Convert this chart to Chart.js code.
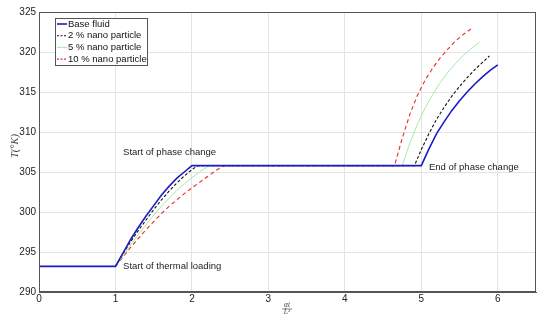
<!DOCTYPE html>
<html>
<head>
<meta charset="utf-8">
<script src="https://cdn.jsdelivr.net/npm/chart.js@4/dist/chart.umd.min.js"></script>
<style>
  body { margin: 0; background: #fff; }
</style>
</head>
<body>
<canvas id="grafico" width="550" height="321"></canvas>
<script>
// series names
var nomiSerie = ['Base fluid', '2 % nano particle', '5 % nano particle', '10 % nano particle'];

// x = alpha t / L^2, T in K
var baseX = [0, 1.0, 1.1, 1.2, 1.3, 1.4, 1.5, 1.6, 1.7, 1.8, 1.9, 2.0, 5.0, 5.1, 5.2, 5.3, 5.4, 5.5, 5.6, 5.7, 5.8, 5.9, 6.0];
var baseT = [293.2, 293.2, 294.9, 296.6, 298.1, 299.5, 300.8, 302.1, 303.2, 304.2, 305.0, 305.8, 305.8, 307.9, 309.8, 311.3, 312.7, 313.9, 315.0, 316.0, 316.9, 317.7, 318.4];

var dueX = [1.0, 1.1, 1.2, 1.3, 1.4, 1.5, 1.6, 1.7, 1.8, 1.9, 2.0, 2.08, 4.91, 5.0, 5.1, 5.2, 5.3, 5.4, 5.5, 5.6, 5.7, 5.8, 5.89];
var dueT = [293.2, 294.8, 296.3, 297.7, 299.0, 300.3, 301.5, 302.6, 303.6, 304.5, 305.3, 305.8, 305.8, 307.8, 309.8, 311.6, 313.1, 314.5, 315.7, 316.8, 317.8, 318.7, 319.5];

var cinqueX = [1.0, 1.1, 1.2, 1.3, 1.4, 1.5, 1.6, 1.7, 1.8, 1.9, 2.0, 2.1, 2.22, 4.75, 4.85, 4.95, 5.05, 5.15, 5.25, 5.35, 5.45, 5.55, 5.65, 5.76];
var cinqueT = [293.2, 294.5, 295.9, 297.2, 298.4, 299.6, 300.7, 301.7, 302.7, 303.5, 304.3, 305.0, 305.8, 305.8, 308.6, 311.0, 313.0, 314.7, 316.2, 317.5, 318.6, 319.6, 320.4, 321.2];

var dieciX = [1.0, 1.1, 1.2, 1.3, 1.4, 1.5, 1.6, 1.7, 1.8, 1.9, 2.0, 2.1, 2.2, 2.3, 2.42, 4.65, 4.75, 4.85, 4.95, 5.05, 5.15, 5.25, 5.35, 5.45, 5.55, 5.65];
var dieciT = [293.2, 294.4, 295.6, 296.7, 297.8, 298.8, 299.8, 300.7, 301.5, 302.3, 303.0, 303.7, 304.4, 305.1, 305.8, 305.8, 309.2, 312.2, 314.6, 316.5, 318.0, 319.3, 320.4, 321.4, 322.2, 322.9];

var tickX = [0, 1, 2, 3, 4, 5, 6];
var tickY = [290, 295, 300, 305, 310, 315, 320, 325];

// text notes: [text, x, T]
var note = [
    ['Start of phase change', 1.1, 307.4],
    ['Start of thermal loading', 1.1, 293.2],
    ['End of phase change', 5.1, 305.6]
];

function punti(xs, ys)
{
    var out = [];
    for (var i = 0; i < xs.length; i++) {
        out.push({ x: xs[i], y: ys[i] });
    }
    return out;
}

var stili = [
    { color: '#1c1cc0', width: 1.6, dash: [] },
    { color: '#111111', width: 1.1, dash: [3, 2] },
    { color: '#a6eaa6', width: 1.0, dash: [] },
    { color: '#e82a2a', width: 1.1, dash: [4, 3] }
];

var serie = [punti(baseX, baseT), punti(dueX, dueT), punti(cinqueX, cinqueT), punti(dieciX, dieciT)];

var datasets = [];
for (var i = 0; i < serie.length; i++) {
    datasets.push({
        label: nomiSerie[i],
        data: serie[i],
        showLine: true,
        borderColor: stili[i].color,
        borderWidth: stili[i].width,
        borderDash: stili[i].dash,
        pointRadius: 0,
        fill: false,
        tension: 0
    });
}

var extra = {
    id: 'extra',
    afterDraw: function(chart) {
        var c = chart.ctx;
        var sx = chart.scales.x;
        var sy = chart.scales.y;
        var a = chart.chartArea;
        c.save();

        // box round the plot
        c.strokeStyle = '#555';
        c.lineWidth = 1;
        c.strokeRect(Math.round(a.left) + 0.5, Math.round(a.top) + 0.5, Math.round(a.right - a.left) - 1, Math.round(a.bottom - a.top) - 1);

        // notes
        c.font = '9.5px "Liberation Sans", Arial, sans-serif';
        c.fillStyle = '#222';
        c.textBaseline = 'middle';
        c.textAlign = 'left';
        for (var i = 0; i < note.length; i++) {
            c.fillText(note[i][0], sx.getPixelForValue(note[i][1]), sy.getPixelForValue(note[i][2]));
        }

        // legend box
        var lx = 55, ly = 18, lw = 92, lh = 47;
        c.fillStyle = '#fff';
        c.fillRect(lx, ly, lw, lh);
        c.strokeStyle = '#555';
        c.lineWidth = 1;
        c.setLineDash([]);
        c.strokeRect(lx + 0.5, ly + 0.5, lw, lh);
        c.font = '9.5px "Liberation Sans", Arial, sans-serif';
        for (var k = 0; k < nomiSerie.length; k++) {
            var yy = ly + 6 + k * 11.7;
            c.strokeStyle = stili[k].color;
            c.lineWidth = stili[k].width;
            c.setLineDash(stili[k].dash.length ? [2, 1.5] : []);
            c.beginPath();
            c.moveTo(lx + 2, yy);
            c.lineTo(lx + 12, yy);
            c.stroke();
            c.fillStyle = '#111';
            c.fillText(nomiSerie[k], lx + 13, yy);
        }
        c.setLineDash([]);

        // y title
        c.fillStyle = '#444';
        c.font = 'italic 10.5px "Liberation Serif", "DejaVu Serif", serif';
        c.translate(15, 146);
        c.rotate(-Math.PI / 2);
        c.textAlign = 'center';
        c.fillText('T(°K)', 0, 0);
        c.setTransform(1, 0, 0, 1, 0, 0);

        // x title as fraction
        var fx = 287;
        c.font = 'italic 7.5px "Liberation Serif", "DejaVu Serif", serif';
        c.textAlign = 'center';
        c.fillText('αt', fx, 305.5);
        c.fillText('L²', fx, 312.5);
        c.strokeStyle = '#444';
        c.lineWidth = 0.6;
        c.beginPath();
        c.moveTo(fx - 5, 309);
        c.lineTo(fx + 5, 309);
        c.stroke();
        c.restore();
    }
};

var chart = new Chart(document.getElementById('grafico'), {
    type: 'scatter',
    data: { datasets: datasets },
    options: {
        responsive: false,
        animation: false,
        devicePixelRatio: 1,
        layout: { padding: { top: 12, right: 14, left: 0, bottom: 0 } },
        plugins: {
            legend: { display: false },
            tooltip: { enabled: false }
        },
        scales: {
            x: {
                type: 'linear',
                min: 0,
                max: 6.5,
                afterBuildTicks: function(axis) {
                    axis.ticks = tickX.map(function(v) { return { value: v }; });
                },
                afterFit: function(axis) { axis.height = 29; },
                grid: { color: '#e4e4e4', drawTicks: false },
                border: { display: true, color: '#555' },
                ticks: {
                    color: '#222',
                    padding: 1,
                    maxRotation: 0,
                    font: { family: '"Liberation Sans", Arial, sans-serif', size: 10 }
                }
            },
            y: {
                type: 'linear',
                min: 290,
                max: 325,
                afterBuildTicks: function(axis) {
                    axis.ticks = tickY.map(function(v) { return { value: v }; });
                },
                afterFit: function(axis) { axis.width = 39; },
                grid: { color: '#e4e4e4', drawTicks: false },
                border: { display: true, color: '#555' },
                ticks: {
                    color: '#222',
                    padding: 3,
                    font: { family: '"Liberation Sans", Arial, sans-serif', size: 10 }
                }
            }
        }
    },
    plugins: [extra]
});
</script>
</body>
</html>
